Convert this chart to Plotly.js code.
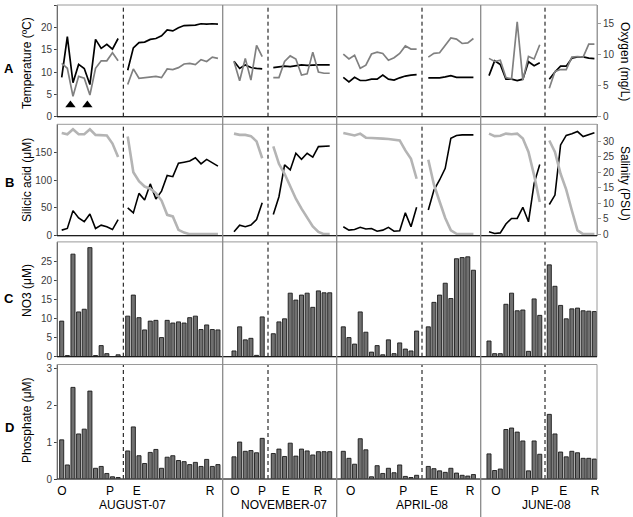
<!DOCTYPE html>
<html><head><meta charset="utf-8">
<script src="https://cdn.plot.ly/plotly-3.0.1.min.js"></script>
<style>html,body{margin:0;padding:0;background:#fff}#chart{width:633px;height:517px}</style>
</head><body><div id="chart"></div>
<script>
// ---------------- DATA ----------------
const months = ['AUGUST-07', 'NOVEMBER-07', 'APRIL-08', 'JUNE-08'];
const zoneLabels = ['O', 'P', 'E', 'R'];
// number of samples before the dashed line in each campaign
const splitCount = [11, 6, 14, 10];

// Temperature (ºC)
const augTemp = [8.8, 17.9, 7.6, 11.7, 10.8, 7.2, 17.3, 15.3, 16.2, 15.1, 17.5,
                 10.4, 15.4, 16.6, 16.7, 17.3, 17.5, 18.1, 19.4, 19.2, 19.9, 20.4, 20.5, 20.5, 20.8, 20.7, 20.8, 20.7];
const novTemp = [12.4, 10.8, 11.6, 11.0, 10.8, 10.7,
                 11.0, 11.2, 11.3, 11.2, 11.4, 11.6, 11.5, 11.6, 11.6, 11.6, 11.6];
const aprTemp = [8.8, 7.8, 8.8, 8.1, 8.1, 8.4, 8.4, 9.3, 8.4, 8.2, 8.7, 9.1, 9.3, 9.4,
                 8.7, 8.7, 8.7, 8.9, 9.2, 8.8, 8.8, 8.8, 8.8];
const junTemp = [9.2, 12.5, 11.7, 8.4, 8.4, 8.1, 8.4, 12.3, 11.4, 12.1,
                 8.4, 10.0, 11.3, 11.3, 13.1, 13.4, 13.4, 13.1, 13.0];

// Oxygen (mg/L)
const augOxy = [8.6, 7.8, 3.3, 6.5, 6.2, 3.5, 7.8, 9.0, 9.0, 10.3, 9.0,
                5.2, 7.7, 6.2, 6.3, 6.4, 6.5, 6.3, 7.7, 7.6, 7.9, 8.5, 8.6, 8.4, 9.2, 8.9, 9.6, 9.4];
const novOxy = [8.9, 5.8, 9.4, 5.9, 11.5, 9.7,
                6.3, 6.3, 8.9, 9.8, 9.3, 6.7, 6.9, 10.4, 7.2, 7.0, 7.0];
const aprOxy = [10.1, 9.3, 9.9, 7.8, 8.3, 10.1, 10.4, 10.2, 9.1, 9.5, 10.2, 11.4, 10.9, 10.9,
                9.6, 10.2, 10.3, 11.6, 12.7, 12.5, 11.8, 11.9, 12.6];
const junOxy = [9.4, 8.9, 9.1, 6.3, 6.1, 15.3, 5.9, 9.7, 9.3, 11.6,
                4.6, 7.3, 7.6, 7.6, 9.6, 9.7, 9.6, 11.7, 11.7];

// Silicic acid (µM)
const augSil = [10, 13, 45, 32, 25, 39, 13, 19, 16, 11, 29,
                50, 41, 76, 64, 93, 66, 80, 108, 106, 130, 132, 134, 140, 129, 137, 131, 125];
const novSil = [7, 19, 16, 19, 29, 59,
                38, 70, 127, 118, 148, 137, 148, 141, 160, 161, 161];
const aprSil = [16, 10, 11, 15, 12, 13, 8, 10, 15, 8, 9, 41, 16, 51,
                46, 82, 100, 121, 175, 180, 181, 181, 181];
const junSil = [7, 4, 5, 21, 31, 31, 51, 25, 94, 128,
                56, 73, 163, 180, 183, 187, 178, 182, 185];

// Salinity (PSU)
const augSal = [32.6, 32.2, 33.8, 32.2, 32.2, 33.8, 32.0, 31.9, 31.8, 29.2, 24.9,
                31.5, 20.0, 17.1, 15.4, 14.7, 13.3, 10.9, 6.3, 5.8, 1.5, 0.6, 0.1, 0.1, 0.1, 0.1, 0.1, 0.1];
const novSal = [32.4, 32.0, 32.0, 31.6, 29.9, 24.5,
                28.3, 22.7, 19.5, 15.2, 11.5, 8.3, 5.3, 2.6, 0.8, 0.1, 0.1];
const aprSal = [32.6, 32.2, 31.8, 32.4, 31.1, 31.0, 30.8, 30.8, 30.7, 30.5, 30.2, 27.0, 24.3, 17.9,
                24.0, 16.0, 10.6, 5.3, 1.3, 0.2, 0.1, 0.1, 0.1];
const junSal = [32.4, 31.6, 31.7, 32.4, 32.2, 32.4, 30.8, 26.5, 19.0, 10.4,
                30.2, 26.5, 19.5, 14.4, 7.7, 1.3, 0.1, 0.1, 0.1];

// NO3 (µM)
const augNO3 = [9.3, 0.3, 26.8, 11.7, 12.4, 28.5, 0.3, 2.9, 0.8, null, 0.5,
                10.6, 16.1, 10.2, 7.0, 9.3, 9.5, 5.0, 9.5, 8.8, 9.1, 8.8, 10.2, 10.6, 7.1, 8.3, 7.1, 7.0];
const novNO3 = [1.5, 7.8, 4.4, 4.8, 0.35, 10.4,
                6.0, 9.1, 9.9, 16.6, 14.8, 16.1, 16.6, 12.9, 17.2, 16.7, 16.7];
const aprNO3 = [7.8, 5.0, 3.3, 11.7, 6.4, 1.2, 2.9, 0.5, 4.4, 0.8, 3.6, 2.0, 1.5, 6.7,
                7.8, 14.2, 16.1, 19.2, 15.2, 25.6, 25.9, 26.1, 22.6];
const junNO3 = [4.1, 0.8, 0.8, 13.7, 16.6, 12.0, 12.2, 1.4, 15.1, 10.8,
                24.0, 18.4, 13.4, 9.9, 12.5, 12.7, 12.0, 11.9, 11.8];

// Phosphate (µM)
const augPO4 = [1.06, 0.38, 2.48, 1.22, 1.35, 2.38, 0.29, 0.34, 0.15, 0.06, 0.04,
                0.76, 1.41, 0.63, 0.42, 0.72, 0.80, 0.29, 0.59, 0.63, 0.50, 0.47, 0.39, 0.45, 0.34, 0.53, 0.34, 0.39];
const novPO4 = [0.60, 1.00, 0.75, 0.77, 0.71, 1.10,
                0.69, 0.81, 0.61, 0.97, 0.62, 0.81, 0.76, 0.65, 0.74, 0.74, 0.74];
const aprPO4 = [0.75, 0.56, 0.40, 1.09, 0.79, 0.06, 0.36, 0.15, 0.29, 0.17, 0.38, 0.07, 0.04, 0.10,
                0.34, 0.28, 0.22, 0.18, 0.29, 0.16, 0.10, 0.08, 0.12];
const junPO4 = [0.68, 0.23, 0.27, 1.34, 1.38, 1.27, 1.03, 0.22, 1.03, 0.67,
                1.75, 1.22, 0.73, 0.60, 0.75, 0.71, 0.56, 0.56, 0.54];

// samples marked with a triangle (August, low-temperature dips)
const markedSamples = [2, 5];

const tempData = [augTemp, novTemp, aprTemp, junTemp];
const oxyData = [augOxy, novOxy, aprOxy, junOxy];
const silData = [augSil, novSil, aprSil, junSil];
const salData = [augSal, novSal, aprSal, junSal];
const no3Data = [augNO3, novNO3, aprNO3, junNO3];
const po4Data = [augPO4, novPO4, aprPO4, junPO4];

// ---------------- LAYOUT GEOMETRY ----------------
const W = 633, H = 517, ML = 57, MR = 36, MT = 5, MB = 38;
const PW = W - ML - MR, PH = H - MT - MB;
const fx = px => (px - ML) / PW;
const fy = py => (H - MB - py) / PH;
const step = 5.64;
const panelPx = [[57, 222.7], [222.7, 336.7], [336.7, 480.7], [480.7, 597]];
const firstPx = [61.7, 234, 343.3, 489];
const afterFirstPx = [127.7, 273.3, 428.3, 549.3];
const dashPx = [123.3, 268, 422, 545];
const zoneLabelPx = [[62, 110, 136.7, 210], [235, 262, 285.7, 318], [350.7, 403.3, 434, 470], [496, 535, 563.3, 595]];
const monthLabelPx = [132, 283.7, 422, 546.8];
const rowsPx = [[5, 116.7], [124.3, 235.7], [241.9, 356.7], [364.5, 479]];
const rowDom = rowsPx.map(r => [fy(r[1]), fy(r[0])]);
const toSlot = (p, px) => (px - firstPx[p]) / step;

function positions(p, n) {
  const split = splitCount[p];
  const off = toSlot(p, afterFirstPx[p]) - split;
  return Array.from({length: n}, (_, i) => i < split ? i : i + off);
}
function lineXY(p, vals) {
  const pos = positions(p, vals.length);
  const xs = [], ys = [];
  vals.forEach((v, i) => {
    if (i === splitCount[p]) { xs.push((pos[i - 1] + pos[i]) / 2); ys.push(null); }
    xs.push(pos[i]); ys.push(v);
  });
  return {xs, ys};
}

const FONT = 'Liberation Sans, Arial, sans-serif';
const traces = [];
const xName = p => p === 0 ? 'x' : 'x' + (p + 1);

for (let p = 0; p < 4; p++) {
  const xa = xName(p);
  const lineSpec = [
    [tempData[p], 'y', '#000000', 1.7],
    [oxyData[p], 'y2', '#808080', 1.7],
    [silData[p], 'y3', '#000000', 1.6],
    [salData[p], 'y4', '#b4b4b4', 2.6]
  ];
  lineSpec.forEach(([vals, ya, col, w]) => {
    const d = lineXY(p, vals);
    traces.push({type: 'scatter', mode: 'lines', x: d.xs, y: d.ys, xaxis: xa, yaxis: ya,
      connectgaps: false, line: {color: col, width: w}, hoverinfo: 'skip', showlegend: false});
  });
  [[no3Data[p], 'y5'], [po4Data[p], 'y6']].forEach(([vals, ya]) => {
    traces.push({type: 'bar', x: positions(p, vals.length), y: vals, xaxis: xa, yaxis: ya,
      width: 0.72, marker: {color: '#707070', line: {color: '#1a1a1a', width: 0.9}},
      hoverinfo: 'skip', showlegend: false});
  });
}
// triangles under the August dips
traces.push({type: 'scatter', mode: 'markers', xaxis: 'x', yaxis: 'y',
  x: markedSamples.map(i => positions(0, augTemp.length)[i] - 0.45),
  y: markedSamples.map(() => 2.6),
  marker: {symbol: 'triangle-up', size: 9, color: '#000'}, hoverinfo: 'skip', showlegend: false});

const layout = {
  width: W, height: H,
  margin: {l: ML, r: MR, t: MT, b: MB, pad: 0},
  paper_bgcolor: '#ffffff', plot_bgcolor: 'rgba(0,0,0,0)',
  font: {family: FONT, size: 10, color: '#333'},
  showlegend: false, barmode: 'group', bargap: 0,
  shapes: [], annotations: []
};

function yAx(dom, range, tickvals, side, overlay, lineCol) {
  const a = {domain: dom, range: range, tickvals: tickvals, anchor: 'free', position: side === 'right' ? 1 : 0,
    side: side, showgrid: false, zeroline: false, showline: true, linecolor: lineCol, linewidth: 1,
    ticks: 'outside', ticklen: 3, tickcolor: lineCol, tickfont: {size: 10, color: '#3a3a3a', family: FONT},
    fixedrange: true};
  if (overlay) a.overlaying = overlay;
  return a;
}
layout.yaxis = yAx(rowDom[0], [0, 25], [0, 5, 10, 15, 20, 25], 'left', null, '#404040');
layout.yaxis2 = yAx(rowDom[0], [0, 18], [0, 5, 10, 15], 'right', 'y', '#9a9a9a');
layout.yaxis3 = yAx(rowDom[1], [0, 200], [0, 50, 100, 150], 'left', null, '#404040');
layout.yaxis4 = yAx(rowDom[1], [-0.4, 35.4], [0, 5, 10, 15, 20, 25, 30], 'right', 'y3', '#9a9a9a');
layout.yaxis5 = yAx(rowDom[2], [0, 30], [0, 5, 10, 15, 20, 25], 'left', null, '#404040');
layout.yaxis6 = yAx(rowDom[3], [0, 3.1], [0, 1, 2, 3], 'left', null, '#404040');

for (let p = 0; p < 4; p++) {
  const key = p === 0 ? 'xaxis' : 'xaxis' + (p + 1);
  layout[key] = {
    domain: [fx(panelPx[p][0]), fx(panelPx[p][1])],
    range: [toSlot(p, panelPx[p][0]), toSlot(p, panelPx[p][1])],
    anchor: 'y6', showgrid: false, zeroline: false, showline: false, ticks: '',
    ticklabelstandoff: 3,
    tickvals: zoneLabelPx[p].map(px => toSlot(p, px)), ticktext: zoneLabels,
    tickfont: {size: 12, color: '#000', family: FONT}, tickangle: 0, fixedrange: true
  };
  layout.annotations.push({xref: 'paper', yref: 'paper', x: fx(monthLabelPx[p]), y: fy(505),
    xanchor: 'center', yanchor: 'middle', showarrow: false, text: months[p],
    font: {size: 12, color: '#000', family: FONT}});
  rowDom.forEach(d => {
    layout.shapes.push({type: 'line', xref: xName(p), yref: 'paper', x0: toSlot(p, dashPx[p]), x1: toSlot(p, dashPx[p]),
      y0: d[0], y1: d[1], line: {color: '#000', width: 1, dash: '4px,3px'}});
  });
}
// frames
rowDom.forEach(d => {
  layout.shapes.push({type: 'rect', xref: 'paper', yref: 'paper', x0: 0, x1: 1, y0: d[0], y1: d[1],
    line: {color: '#9a9a9a', width: 1}});
  layout.shapes.push({type: 'line', xref: 'paper', yref: 'paper', x0: 0, x1: 1, y0: d[0], y1: d[0],
    line: {color: '#1e1e1e', width: 1.2}});
});
// panel separators
for (let p = 1; p < 4; p++) {
  layout.shapes.push({type: 'line', xref: 'paper', yref: 'paper', x0: fx(panelPx[p][0]), x1: fx(panelPx[p][0]),
    y0: fy(517), y1: 1, line: {color: '#8a8a8a', width: 1.3}});
}
// axis titles
const leftTitles = [['Temperature (ºC)', 63], ['Silicic acid (μM)', 180], ['NO3 (μM)', 291], ['Phosphate (μM)', 420]];
leftTitles.forEach(([t, py]) => layout.annotations.push({xref: 'paper', yref: 'paper', x: fx(27), y: fy(py),
  xanchor: 'center', yanchor: 'middle', textangle: -90, showarrow: false, text: t,
  font: {size: 12, color: '#000', family: FONT}}));
const rightTitles = [['Oxygen (mg/L)', 61], ['Salinity (PSU)', 183]];
rightTitles.forEach(([t, py]) => layout.annotations.push({xref: 'paper', yref: 'paper', x: fx(625), y: fy(py),
  xanchor: 'center', yanchor: 'middle', textangle: 90, showarrow: false, text: t,
  font: {size: 12, color: '#000', family: FONT}}));
const rowLetters = [['A', 68], ['B', 183], ['C', 298], ['D', 427]];
rowLetters.forEach(([t, py]) => layout.annotations.push({xref: 'paper', yref: 'paper', x: fx(9), y: fy(py),
  xanchor: 'center', yanchor: 'middle', showarrow: false, text: '<b>' + t + '</b>',
  font: {size: 13, color: '#000', family: FONT}}));

Plotly.newPlot('chart', traces, layout, {staticPlot: true, displayModeBar: false});
</script>
</body></html>
